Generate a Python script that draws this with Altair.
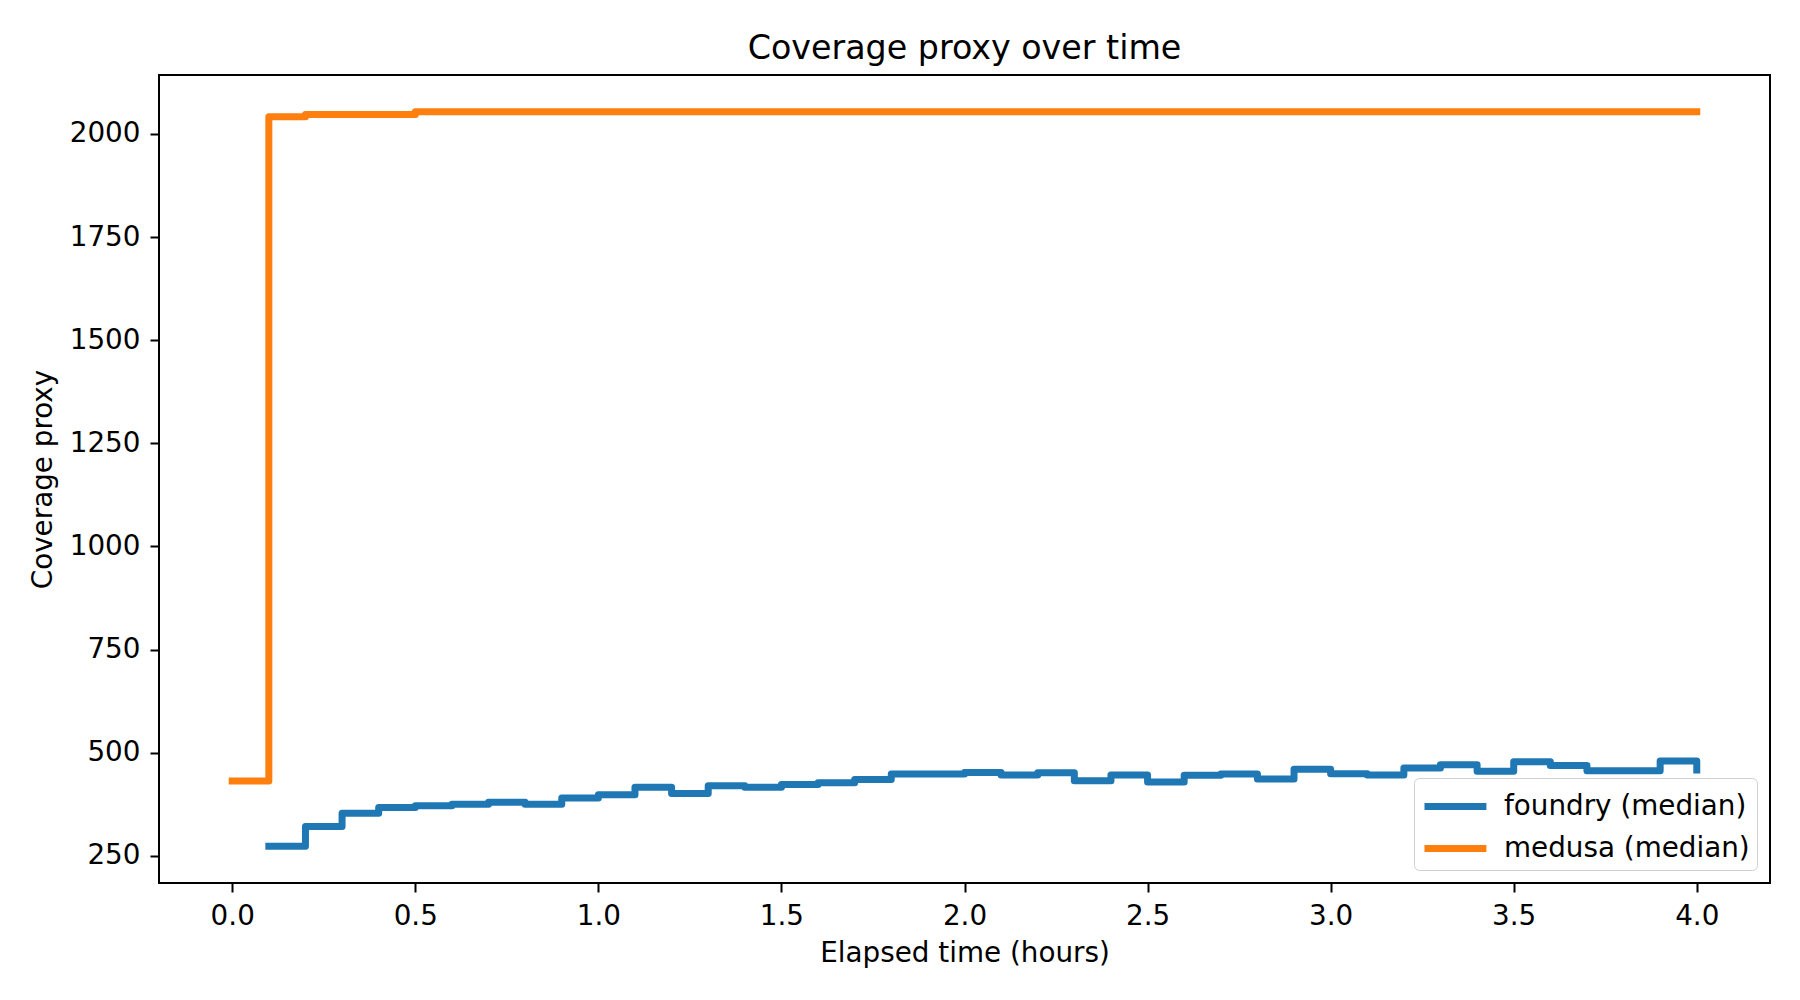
import altair as alt
import pandas as pd

# ---- data ----
foundry_time = [0.1, 0.2, 0.3, 0.4, 0.5, 0.6, 0.7, 0.8, 0.9, 1.0,
                1.1, 1.2, 1.3, 1.4, 1.5, 1.6, 1.7, 1.8, 1.9, 2.0,
                2.1, 2.2, 2.3, 2.4, 2.5, 2.6, 2.7, 2.8, 2.9, 3.0,
                3.1, 3.2, 3.3, 3.4, 3.5, 3.6, 3.7, 3.8, 3.9, 4.0]
foundry_value = [273, 321, 353, 367, 371, 375, 380, 375, 390, 398,
                 416, 401, 420, 416, 423, 427, 435, 448, 448, 452,
                 446, 451, 432, 446, 429, 445, 448, 436, 460, 449,
                 446, 463, 471, 455, 478, 469, 456, 456, 480, 458]

medusa_time = [0.0, 0.1, 0.2, 0.3, 0.4, 0.5, 0.6, 0.7, 0.8, 0.9, 1.0,
               1.1, 1.2, 1.3, 1.4, 1.5, 1.6, 1.7, 1.8, 1.9, 2.0,
               2.1, 2.2, 2.3, 2.4, 2.5, 2.6, 2.7, 2.8, 2.9, 3.0,
               3.1, 3.2, 3.3, 3.4, 3.5, 3.6, 3.7, 3.8, 3.9, 4.0]
medusa_value = [431, 2042, 2047, 2047, 2047, 2054, 2054, 2054, 2054, 2054, 2054,
                2054, 2054, 2054, 2054, 2054, 2054, 2054, 2054, 2054, 2054,
                2054, 2054, 2054, 2054, 2054, 2054, 2054, 2054, 2054, 2054,
                2054, 2054, 2054, 2054, 2054, 2054, 2054, 2054, 2054, 2054]

series_names = ["foundry (median)", "medusa (median)"]
series_colors = ["#1f77b4", "#ff7f0e"]

x_ticks = [0.0, 0.5, 1.0, 1.5, 2.0, 2.5, 3.0, 3.5, 4.0]
y_ticks = [250, 500, 750, 1000, 1250, 1500, 1750, 2000]

rows = []
for t, v in zip(foundry_time, foundry_value):
    rows.append({"t": t, "v": v, "series": series_names[0]})
for t, v in zip(medusa_time, medusa_value):
    rows.append({"t": t, "v": v, "series": series_names[1]})
df = pd.DataFrame(rows)

FONT = "DejaVu Sans"
FS = 27.8

chart = alt.Chart(df).mark_line(
    interpolate="step-after", strokeWidth=7, strokeCap="square", strokeJoin="round"
).encode(
    x=alt.X("t:Q", title="Elapsed time (hours)",
            scale=alt.Scale(domain=[-0.2, 4.2], nice=False, zero=False),
            axis=alt.Axis(values=x_ticks, format=".1f")),
    y=alt.Y("v:Q", title="Coverage proxy",
            scale=alt.Scale(domain=[184, 2143], nice=False, zero=False),
            axis=alt.Axis(values=y_ticks, format="d")),
    color=alt.Color("series:N", title=None,
                    scale=alt.Scale(domain=series_names, range=series_colors),
                    legend=alt.Legend(orient="bottom-right", offset=13,
                                      symbolType="M-1,0H2.44", symbolSize=1296,
                                      symbolStrokeWidth=7,
                                      labelFontSize=FS, labelFont=FONT, labelColor="black",
                                      labelLimit=500,
                                      labelOffset=40, rowPadding=6,
                                      padding=7, fillColor="white",
                                      strokeColor="#d0d0d0", cornerRadius=5)),
    order="t:Q",
).properties(
    width=1611, height=808,
    title=alt.TitleParams("Coverage proxy over time", fontSize=33.3, font=FONT,
                          fontWeight="normal", color="black", anchor="middle",
                          frame="group", baseline="alphabetic", offset=17, dy=34),
    padding={"left": 151, "top": 67, "right": 22, "bottom": 100},
    autosize=alt.AutoSizeParams(type="none"),
).configure_view(
    stroke="black", strokeWidth=2
).configure_axis(
    domain=False, grid=False, ticks=True, tickColor="black", tickWidth=2, tickSize=9,
    labelFont=FONT, labelFontSize=FS, labelColor="black", labelPadding=10,
    titleFont=FONT, titleFontSize=FS, titleFontWeight="normal", titleColor="black",
).configure_axisX(titlePadding=10).configure_axisY(titlePadding=12)

chart.save("out.html", embed_options={"renderer": "svg", "actions": False})
